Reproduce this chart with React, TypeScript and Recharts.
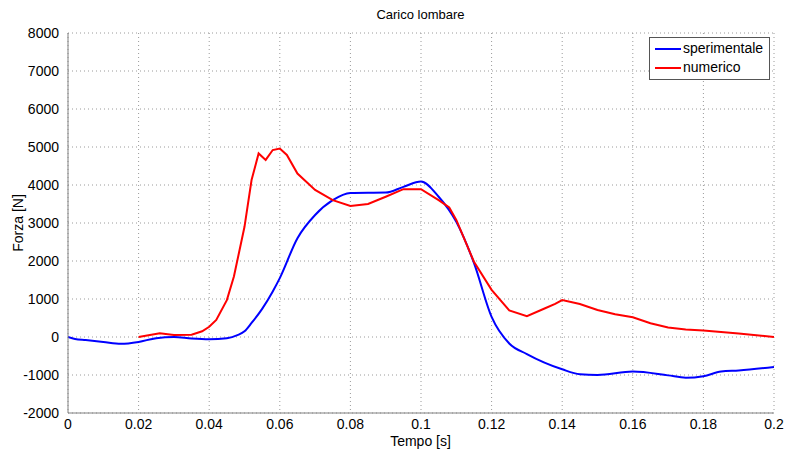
import React from 'react'
import { LineChart, Line, XAxis, YAxis, CartesianGrid } from 'recharts'

const tempoSper = [0, 0.002, 0.005, 0.01, 0.015, 0.02, 0.025, 0.03, 0.035, 0.04, 0.045, 0.048, 0.05, 0.052, 0.055, 0.058, 0.06, 0.065, 0.07, 0.075, 0.08, 0.09, 0.095, 0.1, 0.105, 0.11, 0.115, 0.12, 0.125, 0.13, 0.14, 0.145, 0.15, 0.16, 0.17, 0.175, 0.18, 0.185, 0.19, 0.2]
const forzaSper = [0, -50, -80, -130, -180, -130, -30, 0, -40, -60, -30, 50, 150, 370, 740, 1200, 1550, 2600, 3210, 3600, 3790, 3800, 3950, 4090, 3690, 3030, 1950, 530, -170, -450, -850, -980, -1000, -910, -1010, -1070, -1030, -910, -880, -790]

const tempoNum = [0.02, 0.026, 0.03, 0.035, 0.038, 0.04, 0.042, 0.045, 0.047, 0.05, 0.052, 0.054, 0.056, 0.058, 0.06, 0.062, 0.065, 0.07, 0.075, 0.08, 0.085, 0.09, 0.095, 0.1, 0.105, 0.108, 0.11, 0.115, 0.12, 0.125, 0.13, 0.135, 0.138, 0.14, 0.145, 0.15, 0.155, 0.16, 0.165, 0.17, 0.175, 0.18, 0.19, 0.2]
const forzaNum = [0, 100, 50, 60, 150, 270, 450, 970, 1590, 2900, 4130, 4830, 4660, 4920, 4960, 4790, 4300, 3870, 3600, 3450, 3500, 3690, 3890, 3890, 3600, 3410, 3080, 1980, 1240, 700, 550, 750, 870, 970, 870, 710, 600, 520, 360, 250, 200, 170, 90, 0]

const xTicks = [0, 0.02, 0.04, 0.06, 0.08, 0.1, 0.12, 0.14, 0.16, 0.18, 0.2]
const yTicks = [-2000, -1000, 0, 1000, 2000, 3000, 4000, 5000, 6000, 7000, 8000]

const sperimentale = tempoSper.map((t, i) => ({ t, f: forzaSper[i] }))
const numerico = tempoNum.map((t, i) => ({ t, f: forzaNum[i] }))

const font = '"Liberation Sans", Arial, sans-serif'

const LegendBox = () => (
  <div
    style={{
      position: 'absolute',
      top: 37,
      left: 649,
      border: '1px solid #555',
      background: '#fff',
      width: 119,
      padding: '1px 0 2px',
      fontFamily: font,
      fontSize: 14,
      color: '#000',
      lineHeight: '19px',
    }}
  >
    {[['sperimentale', '#0000ff'], ['numerico', '#ff0000']].map(([name, col]) => (
      <div key={name} style={{ display: 'flex', alignItems: 'center' }}>
        <div style={{ width: 26, height: 0, borderTop: `2px solid ${col}`, marginLeft: 5, marginRight: 2 }} />
        <span>{name}</span>
      </div>
    ))}
  </div>
)

export default function App() {
  return (
    <div style={{ position: 'absolute', left: 0, top: 0, width: 787, height: 453, background: '#fff', fontFamily: font }}>
      <div style={{ position: 'absolute', top: 7, left: 0, width: 787, textAlign: 'center', fontSize: 13, color: '#000', paddingLeft: 54, boxSizing: 'border-box' }}>
        Carico lombare
      </div>
      <LineChart width={787} height={453} margin={{ top: 33, right: 13, left: 8, bottom: 20 }}>
        <CartesianGrid stroke="#9a9a9a" strokeDasharray="1 3" />
        <XAxis
          type="number"
          dataKey="t"
          domain={[0, 0.2]}
          ticks={xTicks}
          tickFormatter={(v: number) => String(v)}
          stroke="#808080"
          tickLine={false}
          tick={{ fill: '#000', fontSize: 14, fontFamily: font }}
          tickMargin={0}
          height={20}
          allowDataOverflow
        />
        <YAxis
          type="number"
          domain={[-2000, 8000]}
          ticks={yTicks}
          stroke="#808080"
          tickLine={false}
          tick={{ fill: '#000', fontSize: 14, fontFamily: font }}
          tickMargin={3}
          width={60}
          allowDataOverflow
        />
        <Line
          data={sperimentale}
          dataKey="f"
          name="sperimentale"
          type="monotone"
          stroke="#0000ff"
          strokeWidth={2}
          dot={false}
          isAnimationActive={false}
        />
        <Line
          data={numerico}
          dataKey="f"
          name="numerico"
          type="linear"
          stroke="#ff0000"
          strokeWidth={2}
          dot={false}
          isAnimationActive={false}
        />
      </LineChart>
      <LegendBox />
      <div style={{ position: 'absolute', top: 433, left: 0, width: 787, textAlign: 'center', fontSize: 14, lineHeight: '16px', color: '#000', paddingLeft: 54, boxSizing: 'border-box' }}>
        Tempo [s]
      </div>
      <div style={{ position: 'absolute', left: 18, top: 223, fontSize: 14, color: '#000', transform: 'translate(-50%, -50%) rotate(-90deg)', whiteSpace: 'nowrap' }}>
        Forza [N]
      </div>
    </div>
  )
}
